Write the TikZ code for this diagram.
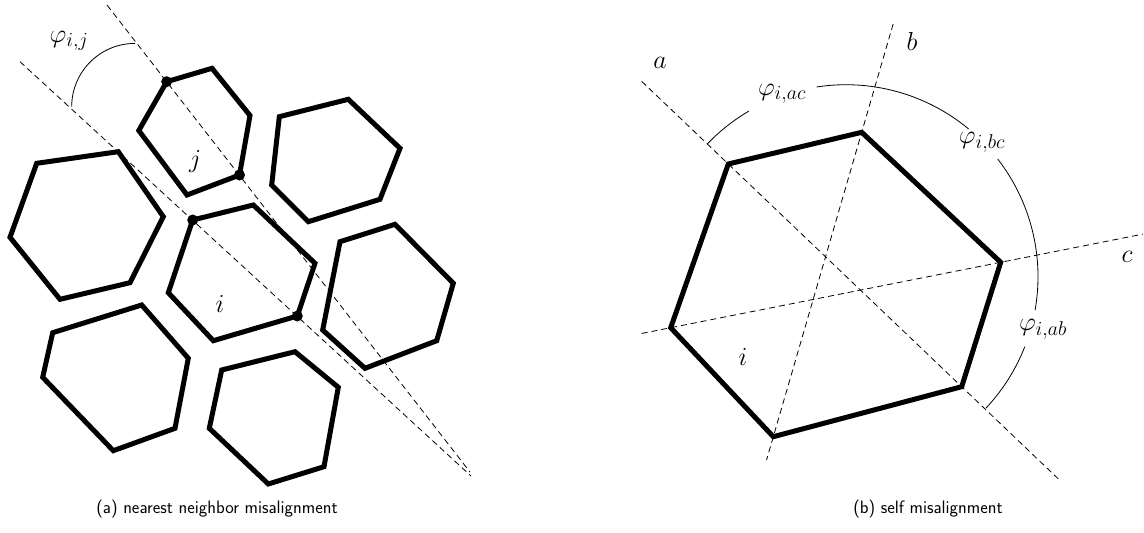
\RequirePackage{fix-cm}
\documentclass[tikz,border=0pt]{standalone}
\usetikzlibrary{calc}
\DeclareMathSizes{26}{26}{20}{15}
\begin{document}
\begin{tikzpicture}[x=1pt,y=-1pt,
  hex/.style={line width=5pt, line join=miter},
  guide/.style={line width=0.8pt, dash pattern=on 6pt off 4pt},
  arcline/.style={line width=0.8pt},
  lbl/.style={font=\fontsize{26}{30}\selectfont, inner sep=0pt},
  captxt/.style={font=\fontsize{18}{22}\selectfont\sffamily, inner sep=0pt},
  dot/.style={circle, fill, inner sep=0pt, minimum size=11pt}]
\useasboundingbox (0,0) rectangle (1144,533);

% ---------- left panel ----------
% hexagons
\draw[hex] (166.7,81.7) coordinate (J1) -- (212,68.3) -- (250,115.5) -- (239.5,175) coordinate (J2) -- (187,195) -- (138.8,130.5) -- cycle;
\draw[hex] (192.7,220) coordinate (I1) -- (253.3,205) -- (315,263.3) -- (297.3,316) coordinate (I2) -- (213.3,340.7) -- (168.3,292.7) -- cycle;
\draw[hex] (36.7,163.3) -- (118.3,151.7) -- (163.3,216.7) -- (130,282.7) -- (60,299.3) -- (10,237.3) -- cycle;
\draw[hex] (279.3,116.7) -- (348.3,99.3) -- (400,148.3) -- (380,199.3) -- (308.3,221.7) -- (271.7,185) -- cycle;
\draw[hex] (340,241.7) -- (395,224.3) -- (453.3,283.3) -- (436.7,340.7) -- (365,368.3) -- (322.7,330) -- cycle;
\draw[hex] (52.7,332.7) -- (141.7,305) -- (188.3,358.3) -- (175,428.3) -- (113.3,450.7) -- (42.7,377.3) -- cycle;
\draw[hex] (221.7,370) -- (295,351.7) -- (338.3,387.3) -- (324,466.7) -- (268.3,484) -- (209.3,428.3) -- cycle;

% guide lines
\coordinate (L1s) at (107,5);
\coordinate (L1e) at (470,472);
\coordinate (L2s) at (20,61.7);
\coordinate (L2e) at (471,476);
\draw[guide] (L1s) -- (L1e);
\draw[guide] (L2s) -- (L2e);

% dots
\node[dot] (dJ1) at (J1) {};
\node[dot] (dJ2) at (J2) {};
\node[dot] (dI1) at (I1) {};
\node[dot] (dI2) at (I2) {};

% angle arc
\draw[arcline] (135,43.4) arc[start angle=-90, end angle=-180, radius=63.3];
\node[lbl] (phiij) at (69,41) {$\varphi_{i,j}$};
\node[lbl] (lj) at (195,162) {$j$};
\node[lbl] (li) at (220,304) {$i$};

\node[captxt] (capa) at (217,509) {(a) nearest neighbor misalignment};

% ---------- right panel ----------
\coordinate (UL) at (728.3,164);
\coordinate (T) at (861.7,132.3);
\coordinate (R) at (1000.7,262.3);
\coordinate (LR) at (961.7,386.7);
\coordinate (B) at (773.3,436.7);
\coordinate (L) at (670.7,327.7);

\draw[guide] ($(UL)!-0.371!(LR)$) coordinate (As) -- ($(UL)!1.414!(LR)$) coordinate (Ae);
\draw[guide] ($(T)!-0.356!(B)$) coordinate (Bs) -- ($(T)!1.077!(B)$) coordinate (Be);
\draw[guide] ($(L)!-0.088!(R)$) coordinate (Cs) -- ($(L)!1.431!(R)$) coordinate (Ce);

\draw[hex] (UL) -- (T) -- (R) -- (LR) -- (B) -- (L) -- cycle;

% arcs around centre (846,276.7), r=192
\coordinate (O) at (846,276.7);
\draw[arcline] ([shift={(O)}] -136.4:192) arc[start angle=-136.4, end angle=-120.4, radius=192];
\draw[arcline] ([shift={(O)}] -98.8:192) arc[start angle=-98.8, end angle=-50.3, radius=192];
\draw[arcline] ([shift={(O)}] -37.8:192) arc[start angle=-37.8, end angle=10, radius=192];
\draw[arcline] ([shift={(O)}] 21.4:192) arc[start angle=21.4, end angle=43.2, radius=192];

\node[lbl] (phiac) at (782,94) {$\varphi_{i,ac}$};
\node[lbl] (phibc) at (982,142) {$\varphi_{i,bc}$};
\node[lbl] (phiab) at (1043,329) {$\varphi_{i,ab}$};
\node[lbl] (la) at (660,63) {$a$};
\node[lbl] (lb) at (912,41) {$b$};
\node[lbl] (lc) at (1127,257) {$c$};
\node[lbl] (li2) at (743,357) {$i$};

\node[captxt] (capb) at (928,509) {(b) self misalignment};
\end{tikzpicture}
\end{document}
